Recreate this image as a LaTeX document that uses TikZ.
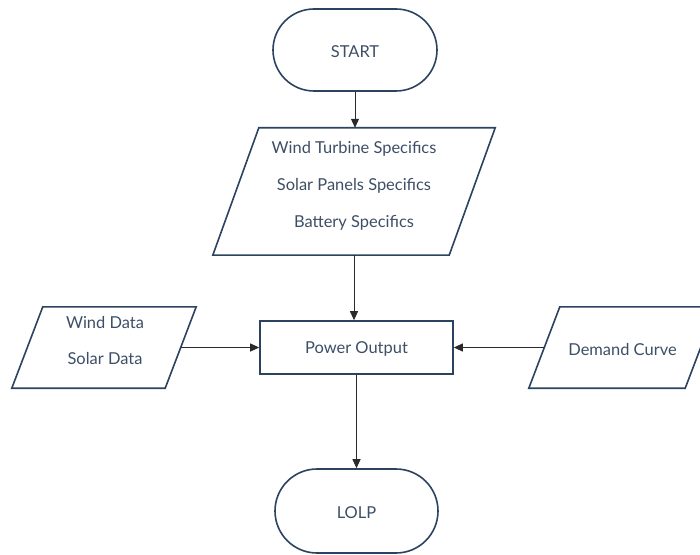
\documentclass[tikz,border=0pt]{standalone}
\usepackage{fontspec}
\setmainfont{Lato}
\usetikzlibrary{arrows.meta,shapes.misc}
\definecolor{edgec}{HTML}{2C4360}
\definecolor{textc}{HTML}{3D4F66}
\definecolor{arrc}{HTML}{2A2A2A}
\tikzset{
  term/.style={rounded rectangle, draw=edgec, line width=1.6bp, inner sep=0pt},
  box/.style={rectangle, draw=edgec, line width=1.6bp, inner sep=0pt},
  slantbox/.style={rectangle, draw=none, inner sep=0pt},
  slantline/.style={draw=edgec, line width=1.6bp, line join=miter},
  txt/.style={text=textc, font=\fontsize{16.5}{37}\selectfont, align=center, inner sep=0pt},
  conn/.style={draw=arrc, line width=1bp, -{Triangle[length=9bp,width=8bp]}}
}
\begin{document}
\begin{tikzpicture}[x=1bp,y=-1bp]
\clip (0,0) rectangle (700,555);
\fill[white] (0,0) rectangle (700,555);
% terminals and process
\node[term, minimum width=164bp, minimum height=82bp] (start) at (355,50) {};
\node[txt] (starttxt) at (355,52) {START};
\node[box, minimum width=193bp, minimum height=53bp] (power) at (356.5,347.5) {};
\node[txt] (powertxt) at (356.5,348.5) {Power Output};
\node[term, minimum width=163bp, minimum height=84bp] (lolp) at (356.5,511) {};
\node[txt] (lolptxt) at (356.5,513) {LOLP};
% parallelograms
\node[slantbox, minimum width=236bp, minimum height=127bp] (spec) at (354,191.5) {};
\draw[slantline] ([xshift=23bp]spec.north west) -- ([xshift=23bp]spec.north east)
  -- ([xshift=-23bp]spec.south east) -- ([xshift=-23bp]spec.south west) -- cycle;
\node[txt] (spectxt) at (354,185.5) {Wind Turbine Specifics\\Solar Panels Specifics\\Battery Specifics};
\node[slantbox, minimum width=153bp, minimum height=81bp] (wind) at (104,347.5) {};
\draw[slantline] ([xshift=15.5bp]wind.north west) -- ([xshift=15.5bp]wind.north east)
  -- ([xshift=-15.5bp]wind.south east) -- ([xshift=-15.5bp]wind.south west) -- cycle;
\node[txt] (windtxt) at (105,340.5) {Wind Data\\Solar Data};
\node[slantbox, minimum width=156bp, minimum height=81bp] (demand) at (622.5,347.5) {};
\draw[slantline] ([xshift=15.5bp]demand.north west) -- ([xshift=15.5bp]demand.north east)
  -- ([xshift=-15.5bp]demand.south east) -- ([xshift=-15.5bp]demand.south west) -- cycle;
\node[txt] (demandtxt) at (622.5,350) {Demand Curve};
% connectors
\draw[conn] (start.south) -- (start.south |- spec.north);
\draw[conn] (spec.south) -- (spec.south |- power.north);
\draw[conn] (wind.east) -- (power.west);
\draw[conn] (demand.west) -- (power.east);
\draw[conn] (power.south) -- (lolp.north);
\end{tikzpicture}
\end{document}
